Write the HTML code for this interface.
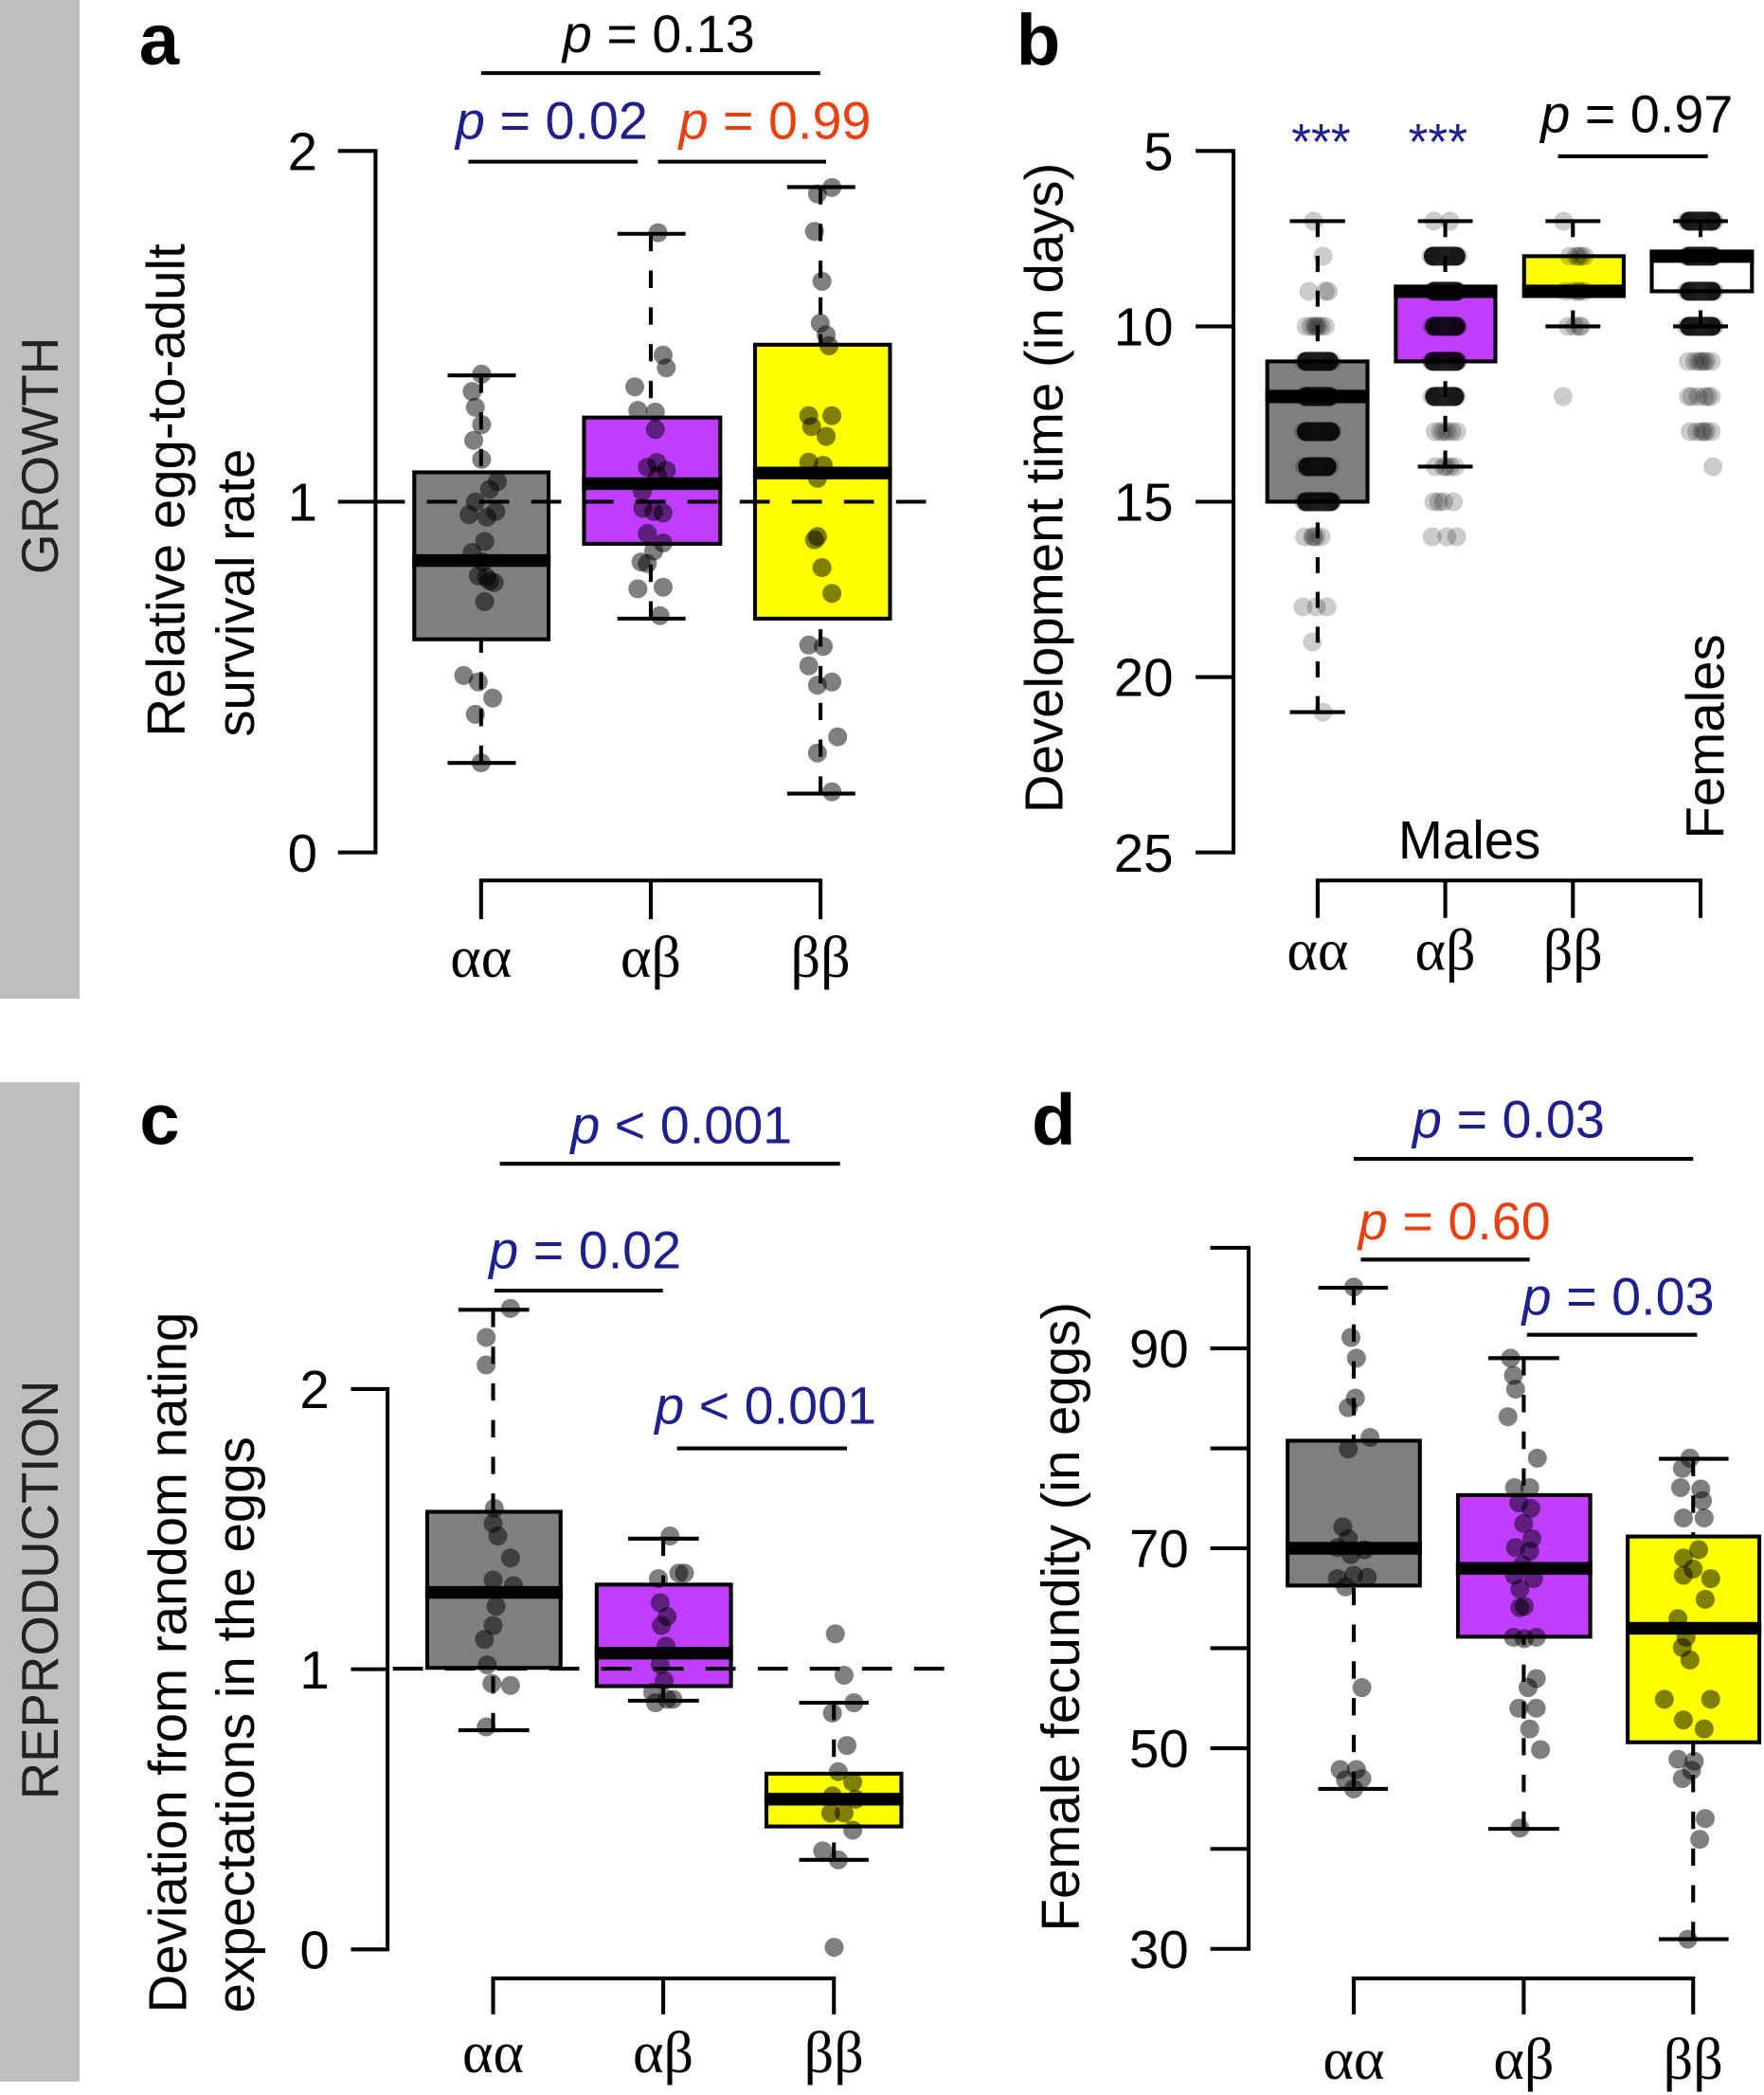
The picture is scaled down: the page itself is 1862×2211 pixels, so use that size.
<!DOCTYPE html>
<html><head><meta charset="utf-8"><style>
html,body{margin:0;padding:0;background:#fff;}
body{width:1862px;height:2211px;overflow:hidden;}
svg{display:block;}
text{font-family:"Liberation Sans",Arial,sans-serif;}
.g{font-family:"Liberation Serif","DejaVu Serif",serif;font-size:44px;text-anchor:middle;}
.tk{font-size:40px;text-anchor:end;}
.pv{font-size:39.5px;}
.bl{fill:#1e208c;}
.rd{fill:#e8400f;}
</style></head><body>
<svg width="1862" height="2211" viewBox="0 0 1320 1568" preserveAspectRatio="none" xmlns="http://www.w3.org/2000/svg">
<rect x="0" y="0" width="1320" height="1568" fill="#fff"/>
<!-- side bands -->
<rect x="0" y="0" width="59.5" height="747.5" fill="#bebebe"/>
<rect x="0" y="810" width="59.5" height="748" fill="#bebebe"/>
<text transform="translate(43.4,341) rotate(-90)" text-anchor="middle" font-size="39" fill="#222">GROWTH</text>
<text transform="translate(43.4,1190) rotate(-90)" text-anchor="middle" font-size="38.7" fill="#222">REPRODUCTION</text>

<!-- panel labels -->
<g font-weight="bold" font-size="54" fill="#000">
<text x="104" y="48.4">a</text>
<text x="760.5" y="48.4">b</text>
<text x="104.4" y="856.5">c</text>
<text x="772" y="856.5">d</text>
</g>

<!-- ================= PANEL A ================= -->
<g stroke="#000" stroke-width="2.9" fill="none">
<line x1="281" y1="111.6" x2="281" y2="639.4"/>
<line x1="252.9" y1="113" x2="281" y2="113"/>
<line x1="252.9" y1="375.5" x2="281" y2="375.5"/>
<line x1="252.9" y1="638" x2="281" y2="638"/>
<path d="M360 688 V659 H614 V688 M487 659 V688"/>
</g>
<g class="tk" fill="#000">
<text class="tk" x="237.5" y="127.3">2</text>
<text class="tk" x="237.5" y="389.8">1</text>
<text class="tk" x="237.5" y="652.3">0</text>
</g>
<text class="g" x="360" y="731">αα</text>
<text class="g" x="487" y="731">αβ</text>
<text class="g" x="614" y="731">ββ</text>
<text transform="translate(138,551.5) rotate(-90)" font-size="40">Relative egg-to-adult</text>
<text transform="translate(190,551.5) rotate(-90)" font-size="40">survival rate</text>
<!-- boxes a -->
<g stroke="#000" stroke-width="2.9">
<rect x="310" y="353.5" width="100.5" height="125" fill="#7f7f7f"/>
<rect x="437" y="312.5" width="102" height="94.5" fill="#bf3eff"/>
<rect x="565" y="258" width="101" height="205" fill="#ffff00"/>
</g>
<g stroke="#000" stroke-width="9.5">
<line x1="308.5" y1="419.5" x2="412" y2="419.5"/>
<line x1="435.5" y1="362" x2="540.5" y2="362"/>
<line x1="563.5" y1="354" x2="667.5" y2="354"/>
</g>
<g stroke="#000" stroke-width="2.9" stroke-dasharray="13 14.5" fill="none">
<line x1="360" y1="281" x2="360" y2="353.5"/>
<line x1="360" y1="571" x2="360" y2="478.5"/>
<line x1="487" y1="175" x2="487" y2="312.5"/>
<line x1="487" y1="463" x2="487" y2="407"/>
<line x1="614" y1="140" x2="614" y2="258"/>
<line x1="614" y1="594" x2="614" y2="463"/>
</g>
<g stroke="#000" stroke-width="2.9">
<line x1="335" y1="281" x2="386" y2="281"/>
<line x1="335" y1="571" x2="386" y2="571"/>
<line x1="462" y1="175" x2="513" y2="175"/>
<line x1="462" y1="463" x2="513" y2="463"/>
<line x1="589" y1="140" x2="640" y2="140"/>
<line x1="589" y1="594" x2="640" y2="594"/>
</g>
<line x1="280.5" y1="375.5" x2="693" y2="375.5" stroke="#000" stroke-width="2.9" stroke-dasharray="22.5 16.5"/>
<g fill="rgba(0,0,0,0.5)">
<circle cx="360.4" cy="280" r="7.1"/><circle cx="353.3" cy="293" r="7.1"/><circle cx="355.7" cy="304.8" r="7.1"/><circle cx="360.4" cy="317.8" r="7.1"/><circle cx="354.5" cy="329.6" r="7.1"/><circle cx="360.4" cy="343.8" r="7.1"/><circle cx="372.2" cy="360.4" r="7.1"/><circle cx="366.3" cy="366.3" r="7.1"/><circle cx="355.7" cy="375.7" r="7.1"/><circle cx="350.9" cy="385.2" r="7.1"/><circle cx="371" cy="382.8" r="7.1"/><circle cx="364.4" cy="387" r="7.1"/><circle cx="362.7" cy="405.3" r="7.1"/><circle cx="353.3" cy="413.5" r="7.1"/><circle cx="361.5" cy="420.6" r="7.1"/><circle cx="366.3" cy="434.8" r="7.1"/><circle cx="369.8" cy="436" r="7.1"/><circle cx="364" cy="432" r="7.1"/><circle cx="358" cy="431" r="7.1"/><circle cx="362.7" cy="450.2" r="7.1"/><circle cx="347" cy="505.6" r="7.1"/><circle cx="357.9" cy="510.4" r="7.1"/><circle cx="368.7" cy="522.5" r="7.1"/><circle cx="355.7" cy="534.6" r="7.1"/><circle cx="360" cy="570.9" r="7.1"/>
<circle cx="492.4" cy="174.2" r="7.1"/><circle cx="496.2" cy="265.8" r="7.1"/><circle cx="498.6" cy="275.3" r="7.1"/><circle cx="475" cy="289.5" r="7.1"/><circle cx="477.3" cy="307.2" r="7.1"/><circle cx="490.4" cy="308.4" r="7.1"/><circle cx="490.4" cy="321.4" r="7.1"/><circle cx="491.5" cy="346.2" r="7.1"/><circle cx="498.6" cy="352.1" r="7.1"/><circle cx="484.4" cy="349.7" r="7.1"/><circle cx="492" cy="356" r="7.1"/><circle cx="480.6" cy="367.7" r="7.1"/><circle cx="480.9" cy="380.5" r="7.1"/><circle cx="489.2" cy="382.8" r="7.1"/><circle cx="496.2" cy="384" r="7.1"/><circle cx="484.4" cy="399.3" r="7.1"/><circle cx="496.2" cy="406.4" r="7.1"/><circle cx="489.2" cy="412.4" r="7.1"/><circle cx="479.7" cy="420.6" r="7.1"/><circle cx="484.4" cy="421.8" r="7.1"/><circle cx="477.3" cy="440.7" r="7.1"/><circle cx="496.2" cy="439.5" r="7.1"/><circle cx="493.9" cy="460.8" r="7.1"/>
<circle cx="622.5" cy="140.3" r="7.1"/><circle cx="611.7" cy="145.1" r="7.1"/><circle cx="609.5" cy="173.2" r="7.1"/><circle cx="615.1" cy="210.5" r="7.1"/><circle cx="613.8" cy="241.9" r="7.1"/><circle cx="618.2" cy="250.6" r="7.1"/><circle cx="620.3" cy="258.8" r="7.1"/><circle cx="605.2" cy="311.1" r="7.1"/><circle cx="622.5" cy="311.1" r="7.1"/><circle cx="607.3" cy="319.3" r="7.1"/><circle cx="618.2" cy="326.6" r="7.1"/><circle cx="605.2" cy="345.9" r="7.1"/><circle cx="616" cy="348.3" r="7.1"/><circle cx="611.7" cy="358" r="7.1"/><circle cx="611.7" cy="401.6" r="7.1"/><circle cx="609.5" cy="404" r="7.1"/><circle cx="615.1" cy="424.8" r="7.1"/><circle cx="622.5" cy="444.1" r="7.1"/><circle cx="605.2" cy="482.8" r="7.1"/><circle cx="616" cy="483.8" r="7.1"/><circle cx="605.2" cy="498.3" r="7.1"/><circle cx="622.5" cy="510.4" r="7.1"/><circle cx="611.7" cy="512.8" r="7.1"/><circle cx="626.8" cy="551.5" r="7.1"/><circle cx="611.7" cy="563.6" r="7.1"/><circle cx="622.5" cy="592.6" r="7.1"/>
</g>
<!-- p values a -->
<text class="pv" x="421" y="39"><tspan font-style="italic">p</tspan> = 0.13</text>
<text class="pv bl" x="341" y="104"><tspan font-style="italic">p</tspan> = 0.02</text>
<text class="pv rd" x="508" y="104"><tspan font-style="italic">p</tspan> = 0.99</text>
<g stroke="#000" stroke-width="2.9">
<line x1="360" y1="54.7" x2="613.8" y2="54.7"/>
<line x1="350.5" y1="121" x2="477.2" y2="121"/>
<line x1="492.4" y1="121" x2="618.2" y2="121"/>
</g>

<!-- ================= PANEL B ================= -->
<g stroke="#000" stroke-width="2.9" fill="none">
<line x1="923" y1="111.6" x2="923" y2="639.4"/>
<line x1="894.7" y1="113" x2="923" y2="113"/>
<line x1="894.7" y1="244.25" x2="923" y2="244.25"/>
<line x1="894.7" y1="375.5" x2="923" y2="375.5"/>
<line x1="894.7" y1="506.75" x2="923" y2="506.75"/>
<line x1="894.7" y1="638" x2="923" y2="638"/>
<path d="M986 687 V659 H1272.5 V687 M1081.5 659 V687 M1177 659 V687"/>
</g>
<text class="tk" x="878" y="127.3">5</text>
<text class="tk" x="878" y="258.5">10</text>
<text class="tk" x="878" y="389.8">15</text>
<text class="tk" x="878" y="521">20</text>
<text class="tk" x="878" y="652.3">25</text>
<text class="g" x="986" y="726">αα</text>
<text class="g" x="1081.5" y="726">αβ</text>
<text class="g" x="1177" y="726">ββ</text>
<text transform="translate(795,365.2) rotate(-90)" text-anchor="middle" font-size="40">Development time (in days)</text>
<text x="1099.6" y="642.5" text-anchor="middle" font-size="40">Males</text>
<text transform="translate(1290,628) rotate(-90)" font-size="40">Females</text>
<g stroke="#000" stroke-width="2.9">
<rect x="948.3" y="270.5" width="75" height="105" fill="#7f7f7f"/>
<rect x="1044.5" y="218" width="74.5" height="52.5" fill="#bf3eff"/>
<rect x="1140.5" y="191.75" width="74.5" height="26.25" fill="#ffff00"/>
<rect x="1236" y="191.75" width="75" height="26.25" fill="#fff"/>
</g>
<g stroke="#000" stroke-width="10">
<line x1="946.8" y1="296.75" x2="1024.8" y2="296.75"/>
<line x1="1043" y1="218" x2="1120.5" y2="218"/>
<line x1="1139" y1="218" x2="1216.5" y2="218"/>
<line x1="1234.5" y1="191.75" x2="1312.5" y2="191.75"/>
</g>
<g stroke="#000" stroke-width="2.9" stroke-dasharray="12 14" fill="none">
<line x1="986" y1="165.5" x2="986" y2="270.5"/>
<line x1="986" y1="533" x2="986" y2="375.5"/>
<line x1="1081.5" y1="165.5" x2="1081.5" y2="218"/>
<line x1="1081.5" y1="349.25" x2="1081.5" y2="270.5"/>
<line x1="1177" y1="165.5" x2="1177" y2="191.75"/>
<line x1="1177" y1="244.25" x2="1177" y2="218"/>
<line x1="1272.5" y1="165.5" x2="1272.5" y2="191.75"/>
<line x1="1272.5" y1="244.25" x2="1272.5" y2="218"/>
</g>
<g stroke="#000" stroke-width="2.9">
<line x1="965.2" y1="165.5" x2="1006.5" y2="165.5"/>
<line x1="965.2" y1="533" x2="1006.5" y2="533"/>
<line x1="1061" y1="165.5" x2="1102" y2="165.5"/>
<line x1="1061" y1="349.25" x2="1102" y2="349.25"/>
<line x1="1156.5" y1="165.5" x2="1197.5" y2="165.5"/>
<line x1="1156.5" y1="244.25" x2="1197.5" y2="244.25"/>
<line x1="1252" y1="165.5" x2="1293" y2="165.5"/>
<line x1="1252" y1="244.25" x2="1293" y2="244.25"/>
</g>
<!-- dense rows -->
<g stroke="rgba(0,0,0,0.88)" stroke-width="14.2" stroke-linecap="round">
<line x1="977.5" y1="270.5" x2="994.5" y2="270.5"/>
<line x1="977.5" y1="296.75" x2="994.5" y2="296.75"/>
<line x1="977.5" y1="323" x2="995.5" y2="323"/>
<line x1="978.5" y1="349.25" x2="993" y2="349.25"/>
<line x1="977.5" y1="375.5" x2="995.5" y2="375.5"/>
<line x1="1072.5" y1="191.75" x2="1089.5" y2="191.75"/>
<line x1="1073.5" y1="218" x2="1089.5" y2="218"/>
<line x1="1073.5" y1="244.25" x2="1089.5" y2="244.25"/>
<line x1="1072.5" y1="270.5" x2="1089.5" y2="270.5"/>
<line x1="1073.5" y1="296.75" x2="1088.5" y2="296.75"/>
<line x1="1264" y1="165.5" x2="1281" y2="165.5"/>
<line x1="1264" y1="191.75" x2="1281" y2="191.75"/>
<line x1="1264" y1="218" x2="1281" y2="218"/>
<line x1="1264" y1="244.25" x2="1281" y2="244.25"/>
</g>
<g fill="rgba(0,0,0,0.2)">
<circle cx="975.5" cy="270.5" r="7.1"/><circle cx="996.5" cy="270.5" r="7.1"/><circle cx="975.5" cy="296.75" r="7.1"/><circle cx="996.5" cy="296.75" r="7.1"/><circle cx="975.5" cy="323" r="7.1"/><circle cx="997" cy="323" r="7.1"/><circle cx="976" cy="349.25" r="7.1"/><circle cx="995" cy="349.25" r="7.1"/><circle cx="975.5" cy="375.5" r="7.1"/><circle cx="997" cy="375.5" r="7.1"/>
<circle cx="983" cy="165.5" r="7.1"/><circle cx="990" cy="191.75" r="7.1"/>
<circle cx="979.4" cy="218" r="7.1"/><circle cx="991.6" cy="218" r="7.1"/><circle cx="994" cy="218" r="7.1"/>
<circle cx="977.4" cy="244.25" r="7.1"/><circle cx="981" cy="244.25" r="7.1"/><circle cx="983.5" cy="244.25" r="7.1"/><circle cx="986" cy="244.25" r="7.1"/><circle cx="988.5" cy="244.25" r="7.1"/><circle cx="991.6" cy="244.25" r="7.1"/><circle cx="985" cy="244.25" r="7.1"/>
<circle cx="976.2" cy="401.75" r="7.1"/><circle cx="982.3" cy="401.75" r="7.1"/><circle cx="984.8" cy="401.75" r="7.1"/><circle cx="988.5" cy="401.75" r="7.1"/><circle cx="983" cy="401.75" r="7.1"/>
<circle cx="975" cy="454.25" r="7.1"/><circle cx="985" cy="454.25" r="7.1"/><circle cx="993" cy="454.25" r="7.1"/>
<circle cx="982" cy="480.5" r="7.1"/><circle cx="990" cy="533" r="7.1"/>
<circle cx="1071" cy="191.75" r="7.1"/><circle cx="1091" cy="191.75" r="7.1"/><circle cx="1071.5" cy="218" r="7.1"/><circle cx="1091" cy="218" r="7.1"/><circle cx="1071.5" cy="244.25" r="7.1"/><circle cx="1091" cy="244.25" r="7.1"/><circle cx="1071" cy="270.5" r="7.1"/><circle cx="1091" cy="270.5" r="7.1"/><circle cx="1071.5" cy="296.75" r="7.1"/><circle cx="1090" cy="296.75" r="7.1"/>
<circle cx="1073" cy="165.5" r="7.1"/><circle cx="1085" cy="165.5" r="7.1"/>
<circle cx="1074" cy="323" r="7.1"/><circle cx="1080.3" cy="323" r="7.1"/><circle cx="1083" cy="323" r="7.1"/><circle cx="1086.4" cy="323" r="7.1"/><circle cx="1090.1" cy="323" r="7.1"/><circle cx="1078" cy="323" r="7.1"/>
<circle cx="1074" cy="349.25" r="7.1"/><circle cx="1080.3" cy="349.25" r="7.1"/><circle cx="1085.2" cy="349.25" r="7.1"/><circle cx="1088.9" cy="349.25" r="7.1"/><circle cx="1082" cy="349.25" r="7.1"/>
<circle cx="1072.9" cy="375.5" r="7.1"/><circle cx="1076.6" cy="375.5" r="7.1"/><circle cx="1080.3" cy="375.5" r="7.1"/><circle cx="1087.6" cy="375.5" r="7.1"/>
<circle cx="1071.7" cy="401.75" r="7.1"/><circle cx="1082.7" cy="401.75" r="7.1"/><circle cx="1090.1" cy="401.75" r="7.1"/>
<circle cx="1170" cy="165.5" r="7.1"/>
<circle cx="1174.5" cy="191.75" r="7.1"/><circle cx="1179.5" cy="191.75" r="7.1"/><circle cx="1183" cy="191.75" r="7.1"/><circle cx="1185.6" cy="191.75" r="7.1"/><circle cx="1181" cy="191.75" r="7.1"/>
<circle cx="1171" cy="218" r="7.1"/><circle cx="1177" cy="218" r="7.1"/><circle cx="1180.7" cy="218" r="7.1"/><circle cx="1185.6" cy="218" r="7.1"/><circle cx="1182" cy="218" r="7.1"/>
<circle cx="1173.3" cy="244.25" r="7.1"/><circle cx="1178.2" cy="244.25" r="7.1"/><circle cx="1182" cy="244.25" r="7.1"/><circle cx="1183" cy="244.25" r="7.1"/>
<circle cx="1169.6" cy="296.75" r="7.1"/>
<circle cx="1262" cy="165.5" r="7.1"/><circle cx="1283" cy="165.5" r="7.1"/><circle cx="1262" cy="191.75" r="7.1"/><circle cx="1283" cy="191.75" r="7.1"/><circle cx="1262" cy="218" r="7.1"/><circle cx="1283" cy="218" r="7.1"/><circle cx="1262" cy="244.25" r="7.1"/><circle cx="1283" cy="244.25" r="7.1"/>
<circle cx="1263.4" cy="270.5" r="7.1"/><circle cx="1268.3" cy="270.5" r="7.1"/><circle cx="1271" cy="270.5" r="7.1"/><circle cx="1273.2" cy="270.5" r="7.1"/><circle cx="1276.9" cy="270.5" r="7.1"/><circle cx="1280.6" cy="270.5" r="7.1"/><circle cx="1275" cy="270.5" r="7.1"/>
<circle cx="1263.4" cy="296.75" r="7.1"/><circle cx="1270.8" cy="296.75" r="7.1"/><circle cx="1275.7" cy="296.75" r="7.1"/><circle cx="1280.6" cy="296.75" r="7.1"/><circle cx="1266" cy="296.75" r="7.1"/><circle cx="1278" cy="296.75" r="7.1"/>
<circle cx="1264.7" cy="323" r="7.1"/><circle cx="1269.6" cy="323" r="7.1"/><circle cx="1273.2" cy="323" r="7.1"/><circle cx="1276.9" cy="323" r="7.1"/><circle cx="1280.6" cy="323" r="7.1"/><circle cx="1275" cy="323" r="7.1"/>
<circle cx="1281.8" cy="349.25" r="7.1"/>
</g>
<text x="988.5" y="119" text-anchor="middle" font-size="38" class="bl">***</text>
<text x="1076" y="119" text-anchor="middle" font-size="38" class="bl">***</text>
<text class="pv" x="1153" y="99"><tspan font-style="italic">p</tspan> = 0.97</text>
<line x1="1165.9" y1="117" x2="1278" y2="117" stroke="#000" stroke-width="2.9"/>

<!-- ================= PANEL C ================= -->
<g stroke="#000" stroke-width="2.9" fill="none">
<line x1="290" y1="1038.2" x2="290" y2="1460.4"/>
<line x1="262.6" y1="1039.6" x2="290" y2="1039.6"/>
<line x1="262.6" y1="1249.3" x2="290" y2="1249.3"/>
<line x1="262.6" y1="1459" x2="290" y2="1459"/>
<path d="M369 1507.6 V1480.7 H624 V1507.6 M496.3 1480.7 V1507.6"/>
</g>
<text class="tk" x="246.5" y="1053.9">2</text>
<text class="tk" x="246.5" y="1263.6">1</text>
<text class="tk" x="246.5" y="1473.3">0</text>
<text class="g" x="369" y="1551">αα</text>
<text class="g" x="496.3" y="1551">αβ</text>
<text class="g" x="624" y="1551">ββ</text>
<text transform="translate(139.3,1506.6) rotate(-90)" font-size="40">Deviation from random nating</text>
<text transform="translate(190,1506.6) rotate(-90)" font-size="40">expectations in the eggs</text>
<g stroke="#000" stroke-width="2.9">
<rect x="319.7" y="1131.5" width="99.8" height="116.8" fill="#7f7f7f"/>
<rect x="446.5" y="1186" width="100.5" height="76" fill="#bf3eff"/>
<rect x="573.5" y="1327.5" width="101" height="39.5" fill="#ffff00"/>
</g>
<g stroke="#000" stroke-width="9.5">
<line x1="318.2" y1="1191.8" x2="421" y2="1191.8"/>
<line x1="445" y1="1237.3" x2="548.5" y2="1237.3"/>
<line x1="572" y1="1346.6" x2="676" y2="1346.6"/>
</g>
<g stroke="#000" stroke-width="2.9" stroke-dasharray="13 14.5" fill="none">
<line x1="369" y1="980.3" x2="369" y2="1131.5"/>
<line x1="369" y1="1295" x2="369" y2="1248.3"/>
<line x1="496.3" y1="1151.6" x2="496.3" y2="1186"/>
<line x1="496.3" y1="1272.9" x2="496.3" y2="1262"/>
<line x1="624" y1="1274.4" x2="624" y2="1327.5"/>
<line x1="624" y1="1392" x2="624" y2="1367"/>
</g>
<g stroke="#000" stroke-width="2.9">
<line x1="343" y1="980.3" x2="396" y2="980.3"/>
<line x1="343" y1="1295" x2="396" y2="1295"/>
<line x1="470" y1="1151.6" x2="523" y2="1151.6"/>
<line x1="470" y1="1272.9" x2="523" y2="1272.9"/>
<line x1="598" y1="1274.4" x2="650" y2="1274.4"/>
<line x1="598" y1="1392" x2="650" y2="1392"/>
</g>
<line x1="294" y1="1248.9" x2="707" y2="1248.9" stroke="#000" stroke-width="2.9" stroke-dasharray="22.5 16.5"/>
<g fill="rgba(0,0,0,0.5)">
<circle cx="382" cy="979.3" r="7.1"/><circle cx="363.8" cy="1001" r="7.1"/><circle cx="363.8" cy="1021.6" r="7.1"/><circle cx="369.9" cy="1128.9" r="7.1"/><circle cx="369" cy="1140.3" r="7.1"/><circle cx="372.5" cy="1149.6" r="7.1"/><circle cx="382" cy="1166.1" r="7.1"/><circle cx="369" cy="1182.6" r="7.1"/><circle cx="384.2" cy="1186.7" r="7.1"/><circle cx="371.2" cy="1202.2" r="7.1"/><circle cx="369" cy="1216.6" r="7.1"/><circle cx="362.5" cy="1227" r="7.1"/><circle cx="364.6" cy="1246" r="7.1"/><circle cx="368.1" cy="1260" r="7.1"/><circle cx="382" cy="1261.5" r="7.1"/><circle cx="363.8" cy="1292.5" r="7.1"/>
<circle cx="501.4" cy="1149.6" r="7.1"/><circle cx="492.7" cy="1181.5" r="7.1"/><circle cx="507.9" cy="1177.4" r="7.1"/><circle cx="512.2" cy="1177.4" r="7.1"/><circle cx="494" cy="1199.6" r="7.1"/><circle cx="499.2" cy="1209.9" r="7.1"/><circle cx="494.9" cy="1216.6" r="7.1"/><circle cx="498.4" cy="1232.1" r="7.1"/><circle cx="494" cy="1246" r="7.1"/><circle cx="497" cy="1257.9" r="7.1"/><circle cx="488.4" cy="1266.7" r="7.1"/><circle cx="499.2" cy="1271.8" r="7.1"/><circle cx="490.5" cy="1274.4" r="7.1"/><circle cx="503.6" cy="1271.8" r="7.1"/>
<circle cx="625.1" cy="1222.8" r="7.1"/><circle cx="631.6" cy="1253.8" r="7.1"/><circle cx="639" cy="1274.4" r="7.1"/><circle cx="622.9" cy="1282.1" r="7.1"/><circle cx="633.8" cy="1306.4" r="7.1"/><circle cx="627.3" cy="1326" r="7.1"/><circle cx="638.1" cy="1333.7" r="7.1"/><circle cx="622.9" cy="1344.1" r="7.1"/><circle cx="640.3" cy="1346.6" r="7.1"/><circle cx="631.6" cy="1357" r="7.1"/><circle cx="621.6" cy="1357" r="7.1"/><circle cx="638.1" cy="1369.8" r="7.1"/><circle cx="615.6" cy="1385.3" r="7.1"/><circle cx="627.3" cy="1392" r="7.1"/><circle cx="624.2" cy="1457.5" r="7.1"/>
</g>
<text class="pv bl" x="427" y="855.5"><tspan font-style="italic">p</tspan> &lt; 0.001</text>
<text class="pv bl" x="366" y="949.4"><tspan font-style="italic">p</tspan> = 0.02</text>
<text class="pv bl" x="490" y="1065.5"><tspan font-style="italic">p</tspan> &lt; 0.001</text>
<g stroke="#000" stroke-width="2.9">
<line x1="374" y1="871" x2="628.6" y2="871"/>
<line x1="370" y1="966" x2="496" y2="966"/>
<line x1="506.6" y1="1084" x2="633.8" y2="1084"/>
</g>

<!-- ================= PANEL D ================= -->
<g stroke="#000" stroke-width="2.9" fill="none">
<line x1="934.3" y1="932.5" x2="934.3" y2="1460"/>
<line x1="905.7" y1="933.9" x2="934.3" y2="933.9"/>
<line x1="905.7" y1="1009.2" x2="934.3" y2="1009.2"/>
<line x1="905.7" y1="1084" x2="934.3" y2="1084"/>
<line x1="905.7" y1="1158.8" x2="934.3" y2="1158.8"/>
<line x1="905.7" y1="1233.6" x2="934.3" y2="1233.6"/>
<line x1="905.7" y1="1308.5" x2="934.3" y2="1308.5"/>
<line x1="905.7" y1="1383.8" x2="934.3" y2="1383.8"/>
<line x1="905.7" y1="1458.6" x2="934.3" y2="1458.6"/>
<path d="M1013 1507.6 V1480.7 H1267 V1507.6 M1140.2 1480.7 V1507.6"/>
</g>
<text class="tk" x="889.5" y="1023.5">90</text>
<text class="tk" x="889.5" y="1173.1">70</text>
<text class="tk" x="889.5" y="1322.8">50</text>
<text class="tk" x="889.5" y="1472.9">30</text>
<text class="g" x="1013" y="1556">αα</text>
<text class="g" x="1140.2" y="1556">αβ</text>
<text class="g" x="1267" y="1556">ββ</text>
<text transform="translate(807.5,1210) rotate(-90)" text-anchor="middle" font-size="40">Female fecundity (in eggs)</text>
<g stroke="#000" stroke-width="2.9">
<rect x="963.5" y="1078.3" width="99" height="108.4" fill="#7f7f7f"/>
<rect x="1091" y="1119" width="99" height="106" fill="#bf3eff"/>
<rect x="1218" y="1150" width="98.5" height="154" fill="#ffff00"/>
</g>
<g stroke="#000" stroke-width="9.5">
<line x1="962" y1="1158.8" x2="1064" y2="1158.8"/>
<line x1="1089.5" y1="1173.8" x2="1191.5" y2="1173.8"/>
<line x1="1216.5" y1="1218.7" x2="1318" y2="1218.7"/>
</g>
<g stroke="#000" stroke-width="2.9" stroke-dasharray="13 14.5" fill="none">
<line x1="1013" y1="963.8" x2="1013" y2="1078.3"/>
<line x1="1013" y1="1338.9" x2="1013" y2="1186.7"/>
<line x1="1140.2" y1="1016.5" x2="1140.2" y2="1119"/>
<line x1="1140.2" y1="1368.8" x2="1140.2" y2="1225"/>
<line x1="1267" y1="1091.8" x2="1267" y2="1150"/>
<line x1="1267" y1="1451.4" x2="1267" y2="1304"/>
</g>
<g stroke="#000" stroke-width="2.9">
<line x1="986.5" y1="963.8" x2="1038.6" y2="963.8"/>
<line x1="986.5" y1="1338.9" x2="1038.6" y2="1338.9"/>
<line x1="1113.7" y1="1016.5" x2="1166.7" y2="1016.5"/>
<line x1="1113.7" y1="1368.8" x2="1166.7" y2="1368.8"/>
<line x1="1241.3" y1="1091.8" x2="1293.5" y2="1091.8"/>
<line x1="1241.3" y1="1451.4" x2="1293.5" y2="1451.4"/>
</g>
<g fill="rgba(0,0,0,0.5)">
<circle cx="1013" cy="963.3" r="7.1"/><circle cx="1010.9" cy="1001" r="7.1"/><circle cx="1015" cy="1016.5" r="7.1"/><circle cx="1014.2" cy="1046.4" r="7.1"/><circle cx="1008.9" cy="1053.6" r="7.1"/><circle cx="1025.2" cy="1075.8" r="7.1"/><circle cx="1008.9" cy="1084.5" r="7.1"/><circle cx="1004.8" cy="1142.8" r="7.1"/><circle cx="1008.9" cy="1151.6" r="7.1"/><circle cx="1000.7" cy="1158.3" r="7.1"/><circle cx="1021.1" cy="1159.9" r="7.1"/><circle cx="1010.9" cy="1163.5" r="7.1"/><circle cx="1013" cy="1179" r="7.1"/><circle cx="1000.7" cy="1181.5" r="7.1"/><circle cx="1006.8" cy="1187.7" r="7.1"/><circle cx="1023.2" cy="1180.5" r="7.1"/><circle cx="1019.1" cy="1263.1" r="7.1"/><circle cx="1002.8" cy="1324.4" r="7.1"/><circle cx="1015" cy="1324.4" r="7.1"/><circle cx="1019.1" cy="1331.2" r="7.1"/><circle cx="1006.8" cy="1332.2" r="7.1"/><circle cx="1013" cy="1338.9" r="7.1"/>
<circle cx="1130.4" cy="1016.5" r="7.1"/><circle cx="1132.5" cy="1029.4" r="7.1"/><circle cx="1134.1" cy="1039.7" r="7.1"/><circle cx="1128.4" cy="1060.3" r="7.1"/><circle cx="1150.4" cy="1091.3" r="7.1"/><circle cx="1133.3" cy="1113.4" r="7.1"/><circle cx="1144.7" cy="1113.4" r="7.1"/><circle cx="1136.5" cy="1124.8" r="7.1"/><circle cx="1145.5" cy="1128.9" r="7.1"/><circle cx="1140.2" cy="1140.3" r="7.1"/><circle cx="1146.3" cy="1151.6" r="7.1"/><circle cx="1134.1" cy="1158.3" r="7.1"/><circle cx="1144.7" cy="1160.9" r="7.1"/><circle cx="1139.4" cy="1171.2" r="7.1"/><circle cx="1133.3" cy="1179" r="7.1"/><circle cx="1147.5" cy="1181.5" r="7.1"/><circle cx="1137.3" cy="1189.3" r="7.1"/><circle cx="1140.6" cy="1202.2" r="7.1"/><circle cx="1137.3" cy="1203.2" r="7.1"/><circle cx="1132.5" cy="1225.4" r="7.1"/><circle cx="1149.6" cy="1225.4" r="7.1"/><circle cx="1140.6" cy="1226.4" r="7.1"/><circle cx="1149.6" cy="1256.3" r="7.1"/><circle cx="1143.5" cy="1263.1" r="7.1"/><circle cx="1136.5" cy="1278.5" r="7.1"/><circle cx="1149.6" cy="1278.5" r="7.1"/><circle cx="1144.7" cy="1294" r="7.1"/><circle cx="1152.8" cy="1309.5" r="7.1"/><circle cx="1137.3" cy="1368.3" r="7.1"/>
<circle cx="1264.6" cy="1091.3" r="7.1"/><circle cx="1258.9" cy="1099" r="7.1"/><circle cx="1257.6" cy="1113.4" r="7.1"/><circle cx="1272.7" cy="1114.5" r="7.1"/><circle cx="1274" cy="1123.2" r="7.1"/><circle cx="1259.7" cy="1136.1" r="7.1"/><circle cx="1275.2" cy="1136.1" r="7.1"/><circle cx="1259.7" cy="1166.1" r="7.1"/><circle cx="1271.1" cy="1159.9" r="7.1"/><circle cx="1267" cy="1174.3" r="7.1"/><circle cx="1259.7" cy="1179" r="7.1"/><circle cx="1280.1" cy="1181.5" r="7.1"/><circle cx="1276" cy="1197" r="7.1"/><circle cx="1255.6" cy="1211.5" r="7.1"/><circle cx="1261.7" cy="1225.4" r="7.1"/><circle cx="1258.9" cy="1233.1" r="7.1"/><circle cx="1264.6" cy="1242.4" r="7.1"/><circle cx="1245.4" cy="1271.8" r="7.1"/><circle cx="1280.1" cy="1271.8" r="7.1"/><circle cx="1259.7" cy="1287.3" r="7.1"/><circle cx="1275.2" cy="1294" r="7.1"/><circle cx="1255.6" cy="1316.7" r="7.1"/><circle cx="1267.8" cy="1318.2" r="7.1"/><circle cx="1265.8" cy="1325" r="7.1"/><circle cx="1258.9" cy="1331.2" r="7.1"/><circle cx="1276" cy="1361.1" r="7.1"/><circle cx="1271.9" cy="1376.6" r="7.1"/><circle cx="1263" cy="1451.4" r="7.1"/>
</g>
<text class="pv bl" x="1057" y="851.4"><tspan font-style="italic">p</tspan> = 0.03</text>
<text class="pv rd" x="1016.5" y="927.7"><tspan font-style="italic">p</tspan> = 0.60</text>
<text class="pv bl" x="1139" y="984"><tspan font-style="italic">p</tspan> = 0.03</text>
<g stroke="#000" stroke-width="2.9">
<line x1="1013" y1="867.4" x2="1267" y2="867.4"/>
<line x1="1018.3" y1="942.7" x2="1144.7" y2="942.7"/>
<line x1="1142.6" y1="999" x2="1270" y2="999"/>
</g>
</svg>
</body></html>
